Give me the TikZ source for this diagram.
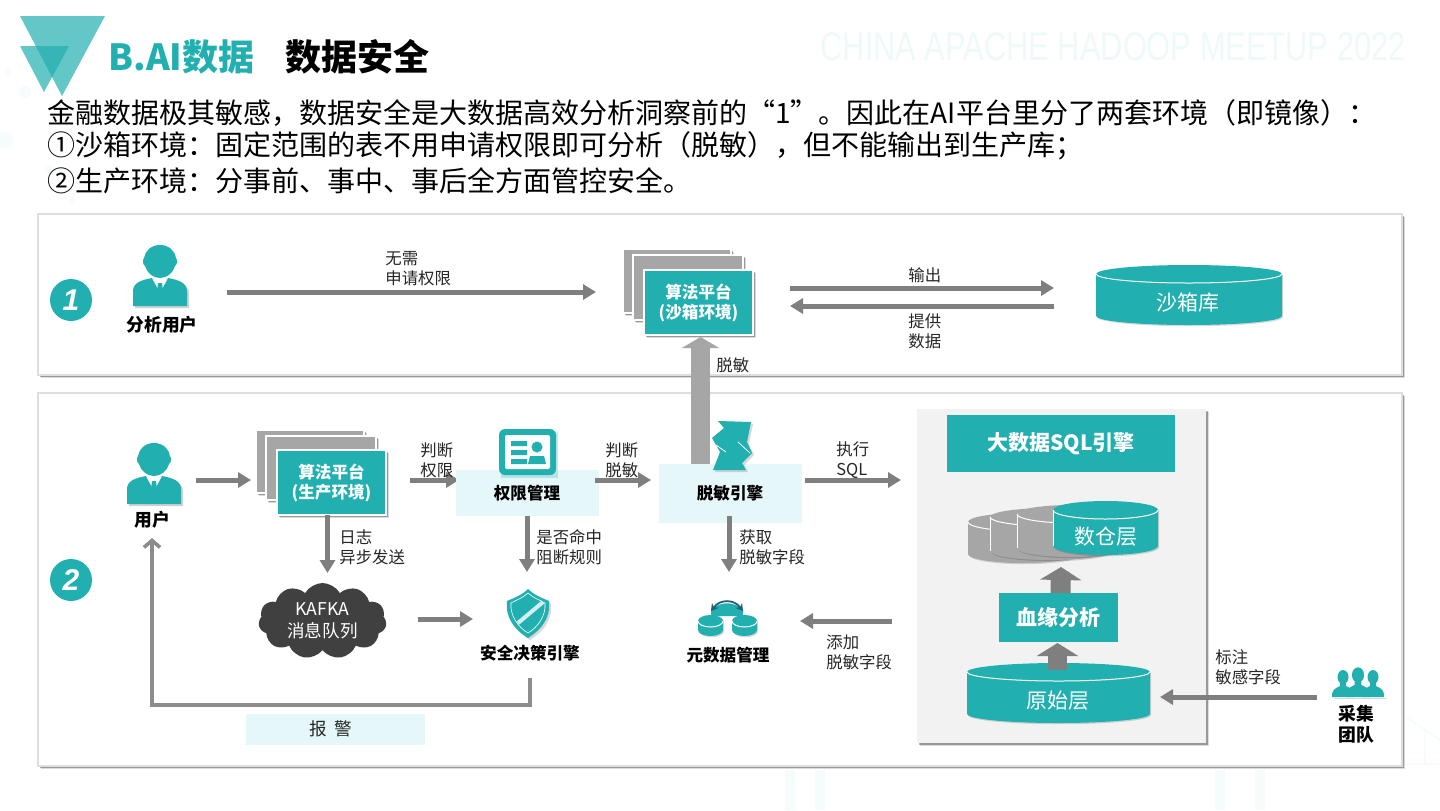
\documentclass[tikz,border=0pt]{standalone}
\usepackage{fontspec}
\usepackage{graphicx}
\setmainfont{Noto Sans CJK SC}
\newfontfamily\wmfont{Liberation Sans}
\newfontfamily\numfont{Liberation Sans}
\usetikzlibrary{arrows.meta,shadows,shapes.symbols}
\definecolor{teal1}{HTML}{22AFB0}
\definecolor{arrowgray}{HTML}{7F7F7F}
\definecolor{lightgray1}{HTML}{A6A6A6}
\definecolor{pale}{HTML}{E6F7FA}
\definecolor{cloudgray}{HTML}{404040}
\definecolor{panelgray}{HTML}{F2F2F2}
\definecolor{faint}{HTML}{F0F9F9}
\definecolor{fainter}{HTML}{F6FBFB}
\definecolor{arcblue}{HTML}{1F5F7A}
\tikzset{
  softshadow/.style={
    drop shadow={shadow xshift=1.6pt,shadow yshift=-1.6pt,fill=black,opacity=.14},
    drop shadow={shadow xshift=1pt,shadow yshift=-1pt,fill=black,opacity=.3}},
  panel/.style={fill=white,draw=black!13,line width=.7pt,softshadow},
  graypanel/.style={fill=panelgray,softshadow},
  tealbox/.style={fill=teal1,text=white,font=\fontsize{8.3}{10}\selectfont\bfseries,align=center},
  titlebox/.style={fill=teal1,text=white,font=\fontsize{10.5}{13}\selectfont\bfseries,align=center},
  frontbox/.style={tealbox,draw=white,line width=.7pt,softshadow},
  backbox/.style={fill=lightgray1,draw=white,line width=.7pt,softshadow},
  palebox/.style={fill=pale},
  lbl/.style={anchor=west,inner sep=0pt,align=left,text=black!85,font=\fontsize{8.2}{10}\selectfont},
  boldlbl/.style={inner sep=0pt,align=center,text=black,font=\fontsize{8.3}{10.5}\selectfont\bfseries},
  userlbl/.style={boldlbl,font=\fontsize{8.9}{10.5}\selectfont\bfseries},
  cyltext/.style={inner sep=0pt,text=white,font=\fontsize{10.5}{13}\selectfont},
  bodytext/.style={anchor=west,inner sep=0pt,text=black,font=\fontsize{14}{17}\selectfont},
  flow/.style={draw=arrowgray,line width=2.5pt,-{Triangle[length=6.5pt,width=7.5pt]}},
  bigup/.style={draw=lightgray1,line width=9.5pt,-{Triangle[length=5.5pt,width=18.5pt]}},
  blockup/.style={draw=arrowgray,line width=10pt,-{Triangle[length=6.5pt,width=20.5pt]}},
  alarm/.style={draw=arrowgray!90,line width=1.8pt,-{Straight Barb[length=3.5pt,width=8pt]}},
  badge/.style={circle,fill=teal1,minimum size=21pt,inner sep=0pt,text=white,font=\fontsize{15}{15}\selectfont\numfont\bfseries\itshape},
  person/.pic={
    \fill[black,opacity=.18] (2,48) .. controls (2,40) and (10,37) .. (21,35) -- (35,35) .. controls (46,37) and (56,40) .. (56,48) -- (56,63) -- (2,63) -- cycle;
    \fill[teal1] (0,46) .. controls (0,38) and (8,35) .. (19,33) -- (35,33) .. controls (46,35) and (54,38) .. (54,46) -- (54,61) -- (0,61) -- cycle;
    \fill[white] (19,33) -- (25,44) -- (27,38) -- (29,44) -- (35,33) -- (27,36) -- cycle;
    \fill[white] (20,33) -- (34,33) -- (27,38) -- cycle;
    \fill[teal1] (25,38) -- (29,38) -- (30,46) -- (27,50) -- (24,46) -- cycle;
    \fill[teal1] (27,0) .. controls (36,0) and (42,6) .. (43,13) .. controls (45,15) and (44,20) .. (42,21) .. controls (40,28) and (34,33) .. (27,33) .. controls (20,33) and (14,28) .. (12,21) .. controls (10,20) and (9,15) .. (11,13) .. controls (12,6) and (18,0) .. (27,0) -- cycle;
  },
  smallman/.pic={
    \fill[teal1] (0,0) circle[x radius=5.5,y radius=7];
    \fill[teal1] (-3,6) -- (3,6) -- (3,9) .. controls (7,11) and (10,12) .. (11,17) -- (11,20) -- (-11,20) -- (-11,17) .. controls (-10,12) and (-7,11) .. (-3,9) -- cycle;
  }
}
% rectangle node from pixel corners
\newcommand{\rnode}[7]{%
  \pgfmathsetmacro\cxx{(#3+#5)/2}\pgfmathsetmacro\cyy{(#4+#6)/2}%
  \pgfmathsetmacro\wxx{(#5-#3)/2}\pgfmathsetmacro\hyy{(#6-#4)/2}%
  \node[#1,minimum width=\wxx pt,minimum height=\hyy pt,inner sep=0pt,outer sep=0pt] (#2) at (\cxx,\cyy) {#7};}
% cylinder: x1,ytop,x2,ybottom,ry(px),colour
\newcommand{\cyl}[6]{%
  \pgfmathsetmacro\rxx{(#3-#1)/4}\pgfmathsetmacro\ryy{#5/2}%
  \pgfmathsetmacro\tcy{#2+#5}\pgfmathsetmacro\bcy{#4-#5}%
  \path[fill=#6,drop shadow={shadow xshift=.6pt,shadow yshift=-.6pt,fill=black,opacity=.15}] (#1,\tcy) -- (#1,\bcy) arc[start angle=180,end angle=360,x radius=\rxx pt,y radius=\ryy pt] -- (#3,\tcy) arc[start angle=0,end angle=180,x radius=\rxx pt,y radius=\ryy pt] -- cycle;
  \draw[white,line width=.5pt] (#1,\tcy) arc[start angle=180,end angle=360,x radius=\rxx pt,y radius=\ryy pt];}
\begin{document}
\begin{tikzpicture}[x=.5pt,y=-.5pt]
\useasboundingbox (0,0) rectangle (1440,810);
\fill[white] (0,0) rectangle (1440,810);
% faint background decoration
\fill[fainter] (25,92) circle[radius=6] (8,72) circle[radius=3] (5,140) circle[radius=8] (50,170) circle[radius=5] (72,200) circle[radius=3];
\fill[fainter] (1215,770) rectangle (1225,810) (1255,770) rectangle (1265,810) (815,770) rectangle (825,810) (785,770) rectangle (795,810);
\draw[fainter,line width=.8pt] (1405,716) -- (1440,740) (1405,764) -- (1440,764) (1425,728) -- (1425,764);
% logo
\fill[teal1,opacity=.7] (20,16) -- (105,16) -- (62,96) -- cycle;
\fill[teal1,opacity=.7] (20,46) -- (69,46) -- (44,92) -- cycle;
% heading
\node[anchor=west,inner sep=0pt,text=teal1,font=\fontsize{18}{22}\selectfont\bfseries] (headA) at (108,57) {B.AI数据};
\node[anchor=west,inner sep=0pt,text=black,font=\fontsize{18}{22}\selectfont\bfseries] (headB) at (285,57) {数据安全};
\node[anchor=east,inner sep=0pt,text=faint] (wm) at (1406,47) {\resizebox{292.5pt}{14pt}{\wmfont CHINA APACHE HADOOP MEETUP 2022}};
\node[bodytext] (l1) at (47,113) {金融数据极其敏感，数据安全是大数据高效分析洞察前的“1”。因此在AI平台里分了两套环境（即镜像）：};
\node[bodytext] (l2) at (47,146) {①沙箱环境：固定范围的表不用申请权限即可分析（脱敏），但不能输出到生产库；};
\node[bodytext] (l3) at (47,181) {②生产环境：分事前、事中、事后全方面管控安全。};
% panels
\rnode{panel}{p1}{38}{214}{1402}{375}{}
\rnode{panel}{p2}{38}{393}{1402}{766}{}
\node[badge] (b1) at (71,300) {1};
\node[badge] (b2) at (71,580) {2};
% === row 1 ===
\pic at (133,245) {person};
\node[userlbl] (u1) at (162,325) {分析用户};
\coordinate (a1s) at (227,292);
\coordinate (a1e) at (596,292);
\draw[flow] (a1s) -- (a1e);
\node[lbl] (t1) at (385,268.5) {无需\\申请权限};
\rnode{backbox}{s1a}{623}{249}{731}{313}{}
\rnode{backbox}{s1b}{633}{255}{743}{320}{}
\rnode{frontbox}{s1c}{644}{270}{753}{335}{算法平台\\(沙箱环境)}
\coordinate (o1s) at (790,288);
\coordinate (o1e) at (1054,288);
\coordinate (o2s) at (1054,306);
\coordinate (o2e) at (790,306);
\draw[flow] (o1s) -- (o1e);
\draw[flow] (o2s) -- (o2e);
\node[lbl] (t2) at (908,275) {输出};
\node[lbl] (t3) at (908,331) {提供\\数据};
\cyl{1096}{265}{1282}{325}{9}{teal1}
\node[cyltext] (sbx) at (1188,303) {沙箱库};
% === row 2 boxes first ===
\pic at (127,443) {person};
\node[userlbl] (u2) at (152,520) {用户};
\rnode{backbox}{s2a}{256}{430}{364}{493}{}
\rnode{backbox}{s2b}{266}{436}{376}{500}{}
\rnode{frontbox}{s2c}{277}{450}{386}{515}{算法平台\\(生产环境)}
\coordinate (a2s) at (196,480);
\coordinate (a2e) at (251,480);
\draw[flow] (a2s) -- (a2e);
\coordinate (a3s) at (410,480);
\coordinate (a3e) at (459,480);
\draw[flow] (a3s) -- (a3e);
\node[lbl] (t4) at (420,460) {判断\\权限};
% permission
\rnode{palebox}{perm}{456}{470}{599}{516}{}
\fill[teal1,opacity=.25] (501,432) rectangle (558,478);
\fill[teal1,rounded corners=3pt] (499,429) rectangle (556,475);
\fill[white,rounded corners=1pt] (505,435) rectangle (550,469);
\fill[teal1] (511,441) rectangle (527,446) (511,450) rectangle (527,455) (511,459) rectangle (527,464);
\fill[teal1] (537,447) circle[radius=5.5];
\fill[teal1] (528,464) -- (530,456) -- (544,456) -- (546,464) -- cycle;
\node[boldlbl] (permt) at (527,493) {权限管理};
\coordinate (a4s) at (595,480);
\coordinate (a4e) at (651,480);
\draw[flow] (a4s) -- (a4e);
\node[lbl] (t5) at (605,460) {判断\\脱敏};
% masking engine & big arrow
\coordinate (bs) at (700.5,464);
\coordinate (be) at (700.5,337);
\draw[bigup] (bs) -- (be);
\node[lbl] (t6) at (716,365) {脱敏};
\rnode{palebox}{mask}{659}{464}{802}{523}{}
\fill[black,opacity=.15] (720,423) -- (726,430) -- (714,440) -- (722,454) -- (715,472) -- (748,472) -- (744,465) -- (754,455) -- (749,444) -- (753,424) -- cycle;
\fill[teal1] (718,421) -- (724,428) -- (712,438) -- (720,452) -- (713,470) -- (746,470) -- (742,463) -- (752,453) -- (747,442) -- (751,422) -- cycle;
\draw[white,line width=.4pt] (716,445) -- (726,452) (738,442) -- (750,453);
\node[boldlbl] (maskt) at (730,493) {脱敏引擎};
\coordinate (a5s) at (805,480);
\coordinate (a5e) at (901,480);
\draw[flow] (a5s) -- (a5e);
\node[lbl] (t7) at (836,460) {执行\\SQL};
% log arrow
\draw[flow] (s2c.south) ++(-4,0) -- ++(0,58) coordinate (a6e);
\node[lbl] (t8) at (339,547) {日志\\异步发送};
\node[cloud,cloud puffs=11,cloud puff arc=120,aspect=1.65,fill=cloudgray,inner sep=0pt,minimum width=64pt,minimum height=38pt,text=white,align=center,font=\fontsize{8.8}{11}\selectfont] (kafka) at (322.5,621) {KAFKA\\消息队列};
\coordinate (a7s) at (418,619);
\coordinate (a7e) at (473,619);
\draw[flow] (a7s) -- (a7e);
% decision
\coordinate (a8s) at (527,516);
\coordinate (a8e) at (527,572);
\draw[flow] (a8s) -- (a8e);
\node[lbl] (t9) at (536,547) {是否命中\\阻断规则};
\fill[black,opacity=.15] (530,591) .. controls (536,597) and (544,600) .. (551,603) .. controls (553,620) and (543,632) .. (530,640) .. controls (517,632) and (507,620) .. (509,603) .. controls (516,600) and (524,597) .. (530,591) -- cycle;
\fill[teal1] (528,589) .. controls (534,595) and (542,598) .. (549,601) .. controls (551,618) and (541,630) .. (528,638) .. controls (515,630) and (505,618) .. (507,601) .. controls (514,598) and (522,595) .. (528,589) -- cycle;
\draw[white,line width=.3pt] (528,593) .. controls (533,598) and (540,600) .. (545,603) .. controls (546,616) and (538,627) .. (528,633) .. controls (518,627) and (510,616) .. (511,603) .. controls (516,600) and (523,598) .. (528,593) -- cycle;
\draw[white!80!teal1,line width=2pt] (518,623) -- (543,602);
\node[boldlbl] (deci) at (530,653) {安全决策引擎};
% metadata
\coordinate (a9s) at (729,516);
\coordinate (a9e) at (729,572);
\draw[flow] (a9s) -- (a9e);
\node[lbl] (t10) at (739,547) {获取\\脱敏字段};
\fill[teal1] (711,616) -- (711,610) .. controls (720,601) and (734,601) .. (743,610) -- (743,616) -- cycle;
\draw[arcblue,line width=.9pt,{Stealth[length=3.5pt,width=4pt]}-{Stealth[length=3.5pt,width=4pt]}] (711,611) .. controls (720,599) and (734,599) .. (743,611);
\cyl{698}{615}{723}{636}{6}{teal1}
\cyl{732}{615}{757}{636}{6}{teal1}
\node[boldlbl] (metat) at (728,655) {元数据管理};
\coordinate (a10s) at (892,621);
\coordinate (a10e) at (800,621);
\draw[flow] (a10s) -- (a10e);
\node[lbl] (t11) at (826,652) {添加\\脱敏字段};
% alarm
\coordinate (al1) at (530,678);
\coordinate (al2) at (530,705);
\coordinate (al3) at (152,705);
\coordinate (al4) at (152,538);
\draw[alarm] (al1) -- (al2) -- (al3) -- (al4);
\rnode{palebox}{alarmb}{246}{714}{425}{745}{}
\node[inner sep=0pt,text=black!85,font=\fontsize{8.8}{10}\selectfont] (alarmt) at (331,729) {报\ \ 警};
% SQL engine
\rnode{graypanel}{eng}{917}{409}{1206}{743}{}
\rnode{titlebox}{engt}{947}{415}{1175}{472}{大数据SQL引擎}
\cyl{968}{513}{1078}{563}{9}{lightgray1}
\cyl{990}{508}{1110}{560}{9}{lightgray1}
\cyl{1017}{505}{1125}{557}{9}{lightgray1}
\cyl{1053}{501}{1158}{555}{9}{teal1}
\draw[white,line width=.4pt] (1053,510) -- (1053,546);
\draw[white,line width=.4pt] (1017,514) -- (1017,548) (990,517) -- (990,551);
\node[cyltext] (dw) at (1106,537) {数仓层};
\rnode{titlebox}{lin}{999}{593}{1118}{642}{血缘分析}
\draw[blockup] (lin.north) ++(2,0) -- (1061,567);
\cyl{967}{663}{1150}{723}{9}{teal1}
\node[cyltext] (raw) at (1058,701) {原始层};
\coordinate (bl2s) at (1057.5,670);
\coordinate (bl2e) at (1057.5,643);
\draw[draw=arrowgray,line width=9.5pt,-{Triangle[length=6.5pt,width=20.5pt]}] (bl2s) -- (bl2e);
% collector
\coordinate (a11s) at (1317,697);
\coordinate (a11e) at (1160,697);
\draw[flow] (a11s) -- (a11e);
\node[lbl] (t12) at (1215,667.5) {标注\\敏感字段};
\fill[black,opacity=.15] (1334,698) rectangle (1387,699);
\pic at (1343,677) {smallman};
\pic at (1373,677) {smallman};
\pic[scale=1.1] at (1358,675) {smallman};
\node[userlbl] (team) at (1356,724.5) {采集\\团队};
\end{tikzpicture}
\end{document}
